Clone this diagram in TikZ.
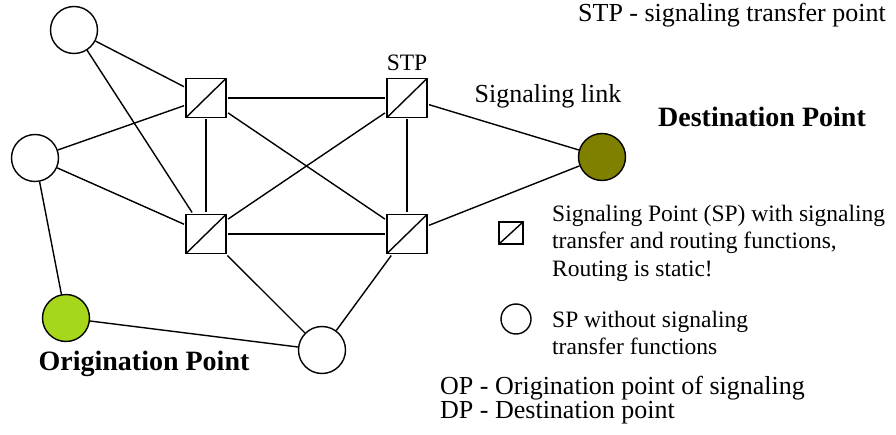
\documentclass[tikz,border=0pt]{standalone}
\usepackage{fontspec}
\setmainfont{Liberation Serif}
\definecolor{opgreen}{RGB}{166,215,26}
\definecolor{dpolive}{RGB}{128,128,0}
\tikzset{
  sp/.style={circle,draw,line width=1.4pt,minimum size=47pt,inner sep=0pt},
  stp/.style={draw,line width=1.4pt,minimum width=40pt,minimum height=39pt,inner sep=0pt,outer sep=2pt,
    path picture={\draw[line width=1.4pt] (path picture bounding box.south west) -- (path picture bounding box.north east);}},
  link/.style={line width=1.4pt},
  txt/.style={font=\fontsize{23.5}{27}\selectfont,inner sep=0pt},
  head/.style={font=\fontsize{26}{30}\selectfont,inner sep=0pt},
  big/.style={font=\fontsize{28}{32}\selectfont\bfseries,inner sep=0pt}
}
\begin{document}
\begin{tikzpicture}[x=1pt,y=-1pt]
\useasboundingbox (0,0) rectangle (896,435);
\node[sp] (c1) at (74,30) {};
\node[sp] (c2) at (35,158) {};
\node[sp,fill=opgreen] (op) at (66,318) {};
\node[sp] (c4) at (322,350) {};
\node[sp,fill=dpolive] (dp) at (602,157) {};
\node[stp] (s1) at (206,98) {};
\node[stp] (s2) at (206,234) {};
\node[stp] (s3) at (407,98) {};
\node[stp] (s4) at (407,234) {};
\draw[link] (c1) -- (s1); \draw[link] (c1) -- (s2);
\draw[link] (c2) -- (s1); \draw[link] (c2) -- (s2); \draw[link] (c2) -- (op);
\draw[link] (op) -- (c4); \draw[link] (s2) -- (c4); \draw[link] (s4) -- (c4);
\draw[link] (s1) -- (s3); \draw[link] (s1) -- (s2); \draw[link] (s1) -- (s4);
\draw[link] (s2) -- (s3); \draw[link] (s2) -- (s4); \draw[link] (s3) -- (s4);
\draw[link] (s3) -- (dp); \draw[link] (s4) -- (dp);
\node[txt,anchor=base] (stplabel) at (407,71) {STP};
\node[head,anchor=base] (linklabel) at (548,103) {Signaling link};
\node[big,anchor=base] (dplabel) at (762,127) {Destination Point};
\node[big,anchor=base] (oplabel) at (144,370) {Origination Point};
\node[head,anchor=base east] (stpnote) at (886,22) {STP - signaling transfer point};
\node[stp,minimum width=24pt,minimum height=22pt,outer sep=0pt] (keystp) at (511,233) {};
\node[sp,minimum size=30pt] (keysp) at (516,319) {};
\node[txt,anchor=base west] (keystp1) at (552,222) {Signaling Point (SP) with signaling};
\node[txt,anchor=base west] (keystp2) at (552,249) {transfer and routing functions,};
\node[txt,anchor=base west] (keystp3) at (552,277) {Routing is static!};
\node[txt,anchor=base west] (keysp1) at (552,327) {SP without signaling};
\node[txt,anchor=base west] (keysp2) at (552,354) {transfer functions};
\node[head,anchor=base west] (opnote) at (440,394) {OP - Origination point of signaling};
\node[head,anchor=base west] (dpnote) at (440,418) {DP - Destination point};
\end{tikzpicture}
\end{document}
